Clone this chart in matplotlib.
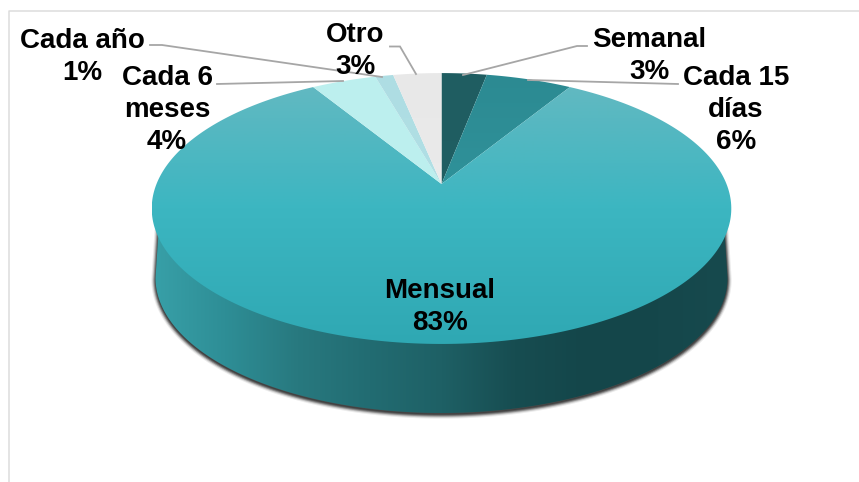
import numpy as np
import matplotlib
matplotlib.use("Agg")
import matplotlib.pyplot as plt
from matplotlib.patches import Polygon
from matplotlib.colors import LinearSegmentedColormap

plt.rcParams["font.family"] = ["Liberation Sans", "DejaVu Sans"]

# clockwise from 12 o'clock
categories = ["Semanal", "Cada 15\ndías", "Mensual", "Cada 6\nmeses", "Cada año", "Otro"]
shares = [3.0, 5.7, 82.6, 4.3, 1.2, 3.2]
pct_labels = ["3%", "6%", "83%", "4%", "1%", "3%"]

# (top colour, middle colour, bottom colour) of each slice
slice_colors = [
    ("#1f5d61", "#205f63", "#236669"),
    ("#2c8a92", "#30939b", "#339aa2"),
    ("#66b9c1", "#3cb6c1", "#2fa8b3"),
    ("#bcefee", "#bdf0ef", "#bff2f0"),
    ("#aedde3", "#b1e0e5", "#b4e4e8"),
    ("#e8e8e8", "#ebebeb", "#eeeeee"),
]
label_pos = [(649, 56), (736, 110), (440, 306.5), (167, 110), (82, 57), (355, 51)]
leaders = [
    [(587, 46), (577, 46), (463, 75)],
    [(678, 84), (528, 80)],
    None,
    [(217, 84), (343, 81)],
    [(150, 45), (162, 45), (382, 77)],
    [(390, 46.5), (400, 46.5), (416, 74)],
]

# pie geometry in pixels, the perspective puts the apex above the ellipse centre
cx, cy = 441.5, 184
A, B, k = 285, 131, 0.181
bottom_cy, bottom_rx, bottom_ry = 278, 286, 135
top_cy, top_rx = 208, 290


def project(t):
    """maps angle t (clockwise from the top) of the flat circle to the picture"""
    u, v = np.sin(t), np.cos(t)
    w = 1 + k * v
    return cx + A * u / w, cy - B * v / w


def gradient_fill(ax, path_xy, extent, colors, horizontal=False, z=2):
    """fills a polygon with a linear gradient through a clipped image"""
    cmap = LinearSegmentedColormap.from_list("g", colors)
    ramp = np.linspace(0, 1, 256)
    data = ramp.reshape(1, -1) if horizontal else ramp.reshape(-1, 1)
    im = ax.imshow(data, cmap=cmap, extent=extent, aspect="auto", origin="upper",
                   interpolation="bilinear", zorder=z)
    patch = Polygon(path_xy, closed=True, transform=ax.transData, fc="none", ec="none")
    ax.add_patch(patch)
    im.set_clip_path(patch)


fig = plt.figure(figsize=(8.59, 4.82), dpi=100)
ax = fig.add_axes([0, 0, 1, 1])
ax.axis("off")

# frame of the original sheet
ax.plot([9, 9, 859], [482, 11, 11], color="#dcdcdc", lw=1.1, zorder=1)

# side wall silhouette, starts where it leaves the top face
t = np.linspace(np.pi, 2 * np.pi, 200)
wall_x = np.r_[cx - 283, cx + bottom_rx * np.cos(t), cx + 283]
wall_y = np.r_[232, bottom_cy - bottom_ry * np.sin(t), 232]
wall = np.c_[wall_x, wall_y]

# soft shadow under the wall
for lw, alpha in [(6, 0.10), (4.5, 0.2), (3, 0.4), (1.5, 0.6)]:
    ax.add_patch(Polygon(wall + [0, 1.5], closed=True, fc="#3c3c3c", ec="#3c3c3c",
                         lw=lw, alpha=alpha, zorder=1.5))

wall_colors = ["#38a0a8", "#2e8e96", "#28797f", "#226c72", "#1e6065",
               "#174d51", "#14464a", "#15474b", "#174a4e"]
gradient_fill(ax, wall, [cx - top_rx, cx + top_rx, 482, 0], wall_colors, horizontal=True, z=2)

# top face, one gradient slice per share
edges = np.r_[0, np.cumsum(shares)] / np.sum(shares) * 2 * np.pi
for i, name in enumerate(categories):
    tt = np.linspace(edges[i], edges[i + 1], 300)
    rim_x, rim_y = project(tt)
    poly = np.c_[np.r_[cx, rim_x], np.r_[cy, rim_y]]
    gradient_fill(ax, poly, [cx - top_rx, cx + top_rx, 345, 72], slice_colors[i], z=3)

# leader lines
for pts in leaders:
    if pts is None:
        continue
    xs, ys = zip(*pts)
    ax.plot(xs, ys, color="#a6a6a6", lw=1.3, zorder=4, solid_joinstyle="miter")

# data labels
for name, pct, (x, y) in zip(categories, pct_labels, label_pos):
    ax.text(x, y, f"{name}\n{pct}", ha="center", va="center", ma="center",
            fontsize=20, fontweight="bold", color="black", linespacing=1.3, zorder=5)

ax.set_xlim(0, 859)
ax.set_ylim(482, 0)
fig.savefig("out.png", dpi=100)
